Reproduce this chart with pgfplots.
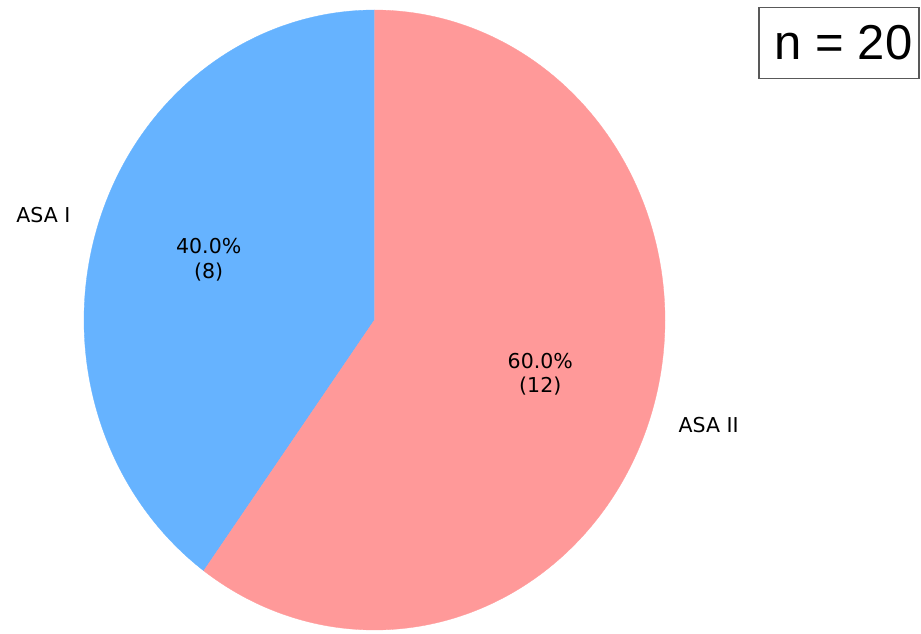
\documentclass[border=0pt]{standalone}
\usepackage{pgfplots}
\usepackage{pgfplotstable}
\usepackage{fontspec}
\pgfplotsset{compat=1.18}
\setmainfont{DejaVu Sans}
\newfontfamily\boxfont{Liberation Sans}

\definecolor{asaone}{HTML}{66B3FF}
\definecolor{asatwo}{HTML}{FF9999}

% ASA classification of the 20 patients
\pgfplotstableread{
label count
{ASA I} 8
{ASA II} 12
}\asadata

\pgfplotstablegetelem{0}{count}\of\asadata \let\nA\pgfplotsretval
\pgfplotstablegetelem{1}{count}\of\asadata \let\nB\pgfplotsretval
\pgfmathsetmacro{\ntot}{\nA+\nB}

% pie geometry (drawing units), start at 12 o'clock, counter-clockwise
\def\cx{374.5}
\def\cy{313}
\def\rx{290.5}
\def\ry{310}
\pgfmathsetmacro{\aS}{90}
\pgfmathsetmacro{\aM}{90+360*\nA/\ntot}
\pgfmathsetmacro{\aE}{\aM+360*\nB/\ntot}
\pgfmathsetmacro{\mA}{(\aS+\aM)/2}
\pgfmathsetmacro{\mB}{(\aM+\aE)/2}
\pgfmathsetmacro{\pA}{100*\nA/\ntot}
\pgfmathsetmacro{\pB}{100*\nB/\ntot}
\pgfkeys{/pgf/number format/assume math mode=true}

\begin{document}
\begin{tikzpicture}
\begin{axis}[
  width=921pt, height=633pt, scale only axis,
  xmin=0, xmax=921, ymin=0, ymax=633,
  hide axis, clip=false,
]
\coordinate (ll) at (axis cs:0,0);
\coordinate (ur) at (axis cs:921,633);

\addplot[fill=asaone, draw=asaone, line width=0.3pt,
  domain=\aS:\aM, samples=150, variable=\t]
  ({\cx+\rx*cos(\t)}, {\cy+\ry*sin(\t)}) -- (axis cs:\cx,\cy) -- cycle;
\addplot[fill=asatwo, draw=asatwo, line width=0.3pt,
  domain=\aM:\aE, samples=200, variable=\t]
  ({\cx+\rx*cos(\t)}, {\cy+\ry*sin(\t)}) -- (axis cs:\cx,\cy) -- cycle;

% outer labels
\node[anchor=east, inner sep=0pt, font=\fontsize{20.5}{24.5}\selectfont]
  at (axis cs:{\cx+1.1*\rx*cos(\mA)},{\cy+1.1*\ry*sin(\mA)}) {ASA I};
\node[anchor=west, inner sep=0pt, font=\fontsize{20.5}{24.5}\selectfont]
  at (axis cs:{\cx+1.1*\rx*cos(\mB)},{\cy+1.1*\ry*sin(\mB)}) {ASA II};

% percentages and counts
\node[align=center, inner sep=0pt, font=\fontsize{20.5}{24.5}\selectfont]
  at (axis cs:{\cx+0.6*\rx*cos(\mA)},{\cy+0.6*\ry*sin(\mA)+3})
  {\pgfmathprintnumber[fixed,fixed zerofill,precision=1]{\pA}\%\\(\nA)};
\node[align=center, inner sep=0pt, font=\fontsize{20.5}{24.5}\selectfont]
  at (axis cs:{\cx+0.6*\rx*cos(\mB)},{\cy+0.6*\ry*sin(\mB)+3})
  {\pgfmathprintnumber[fixed,fixed zerofill,precision=1]{\pB}\%\\(\nB)};

% sample size box
\node[draw=black!65, line width=1.4pt, minimum width=160pt, minimum height=71.5pt,
  inner sep=0pt, font=\boxfont\fontsize{49}{55}\selectfont]
  at (axis cs:839,590) {\hspace{9pt}n = 20};
\end{axis}
\pgfresetboundingbox
\useasboundingbox (ll) rectangle (ur);
\end{tikzpicture}
\end{document}
